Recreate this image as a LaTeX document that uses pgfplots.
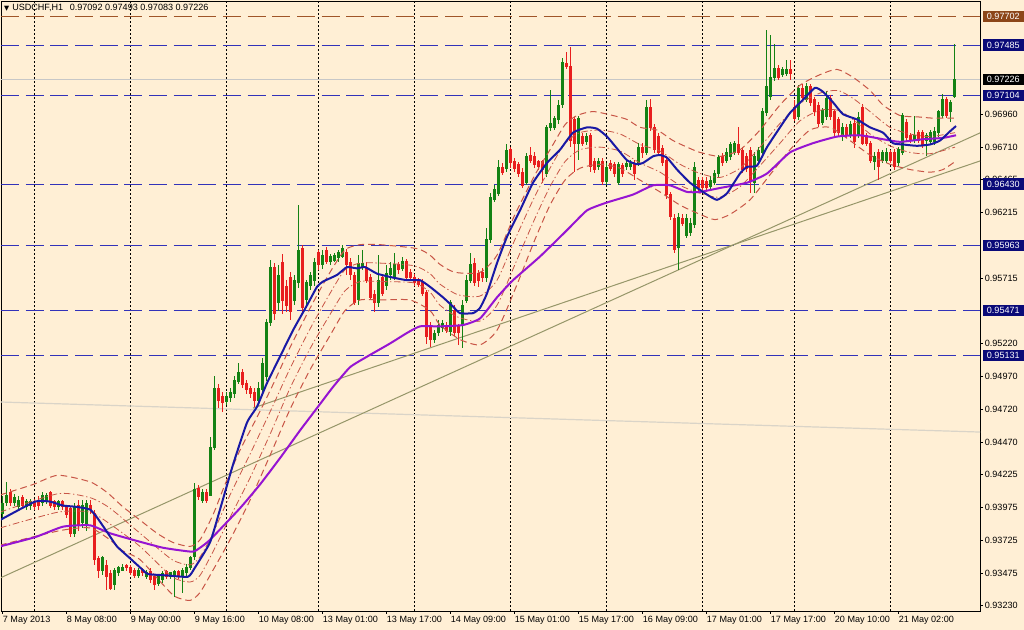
\documentclass[border=0pt]{standalone}
\usepackage{fontspec}
\setmainfont{Liberation Sans}
\newfontfamily\dejavu{DejaVu Sans}
\usepackage{pgfplots}
\usepackage{pgfplotstable}
\pgfplotsset{compat=1.18}

\definecolor{bgc}{RGB}{255,239,213}
\definecolor{upg}{RGB}{20,130,20}
\definecolor{dnr}{RGB}{232,30,30}
\definecolor{mablue}{RGB}{25,25,165}
\definecolor{mapurple}{RGB}{150,20,210}
\definecolor{band}{RGB}{200,85,70}
\definecolor{lvl}{RGB}{50,50,185}
\definecolor{lvlbrown}{RGB}{160,85,40}
\definecolor{trend}{RGB}{150,150,105}
\definecolor{faint}{RGB}{218,212,200}
\definecolor{boxnavy}{RGB}{10,10,120}
\definecolor{boxbrown}{RGB}{140,70,25}

\newcommand\lbl{\fontsize{6.8pt}{8pt}\selectfont}

% USDCHF H1 candles: open high low close
\pgfplotstableread{
o h l c
0.9393 0.9406 0.9388 0.9401
0.9401 0.9417 0.9399 0.9407
0.9409 0.9412 0.9399 0.9401
0.9401 0.9408 0.9399 0.9405
0.9398 0.9406 0.9396 0.9403
0.9405 0.9407 0.9397 0.9399
0.9398 0.9404 0.9396 0.9402
0.9399 0.9404 0.9396 0.9402
0.9402 0.9404 0.9396 0.9398
0.9403 0.9406 0.9396 0.9399
0.9401 0.9409 0.9399 0.9407
0.9402 0.9409 0.9400 0.9407
0.9409 0.9410 0.9397 0.9399
0.9402 0.9403 0.9396 0.9398
0.9398 0.9403 0.9396 0.9402
0.9402 0.9403 0.9396 0.9398
0.9398 0.9399 0.9390 0.9392
0.9397 0.9399 0.9375 0.9378
0.9378 0.9401 0.9375 0.9398
0.9399 0.9403 0.9380 0.9384
0.9386 0.9403 0.9382 0.9399
0.9384 0.9403 0.9380 0.9401
0.9399 0.9403 0.9393 0.9396
0.9393 0.9396 0.9354 0.9358
0.9359 0.9361 0.9344 0.9350
0.9350 0.9361 0.9346 0.9360
0.9354 0.9358 0.9335 0.9345
0.9348 0.9350 0.9335 0.9336
0.9339 0.9352 0.9335 0.9350
0.9348 0.9353 0.9346 0.9352
0.9350 0.9355 0.9349 0.9352
0.9354 0.9355 0.9349 0.9352
0.9352 0.9354 0.9346 0.9348
0.9350 0.9352 0.9344 0.9346
0.9346 0.9352 0.9344 0.9350
0.9350 0.9352 0.9346 0.9348
0.9345 0.9350 0.9343 0.9348
0.9349 0.9352 0.9340 0.9343
0.9345 0.9346 0.9335 0.9339
0.9340 0.9346 0.9338 0.9345
0.9343 0.9349 0.9340 0.9348
0.9349 0.9350 0.9343 0.9345
0.9345 0.9349 0.9343 0.9348
0.9346 0.9350 0.9330 0.9349
0.9349 0.9350 0.9343 0.9345
0.9345 0.9352 0.9333 0.9350
0.9348 0.9355 0.9346 0.9352
0.9352 0.9361 0.9350 0.9360
0.9360 0.9416 0.9358 0.9411
0.9412 0.9415 0.9403 0.9406
0.9403 0.9412 0.9401 0.9409
0.9409 0.9412 0.9401 0.9403
0.9407 0.9451 0.9406 0.9443
0.9443 0.9497 0.9441 0.9488
0.9488 0.9491 0.9473 0.9479
0.9482 0.9485 0.9470 0.9477
0.9478 0.9485 0.9475 0.9482
0.9481 0.9488 0.9478 0.9485
0.9484 0.9497 0.9481 0.9494
0.9493 0.9507 0.9491 0.9500
0.9500 0.9503 0.9488 0.9491
0.9492 0.9494 0.9484 0.9487
0.9488 0.9490 0.9481 0.9484
0.9485 0.9488 0.9474 0.9479
0.9479 0.9493 0.9475 0.9488
0.9487 0.9511 0.9484 0.9507
0.9497 0.9541 0.9494 0.9538
0.9538 0.9585 0.9535 0.9580
0.9580 0.9583 0.9540 0.9545
0.9553 0.9582 0.9547 0.9574
0.9584 0.9590 0.9544 0.9555
0.9565 0.9570 0.9546 0.9551
0.9572 0.9576 0.9540 0.9546
0.9555 0.9574 0.9551 0.9570
0.9568 0.9627 0.9564 0.9593
0.9594 0.9597 0.9546 0.9549
0.9555 0.9570 0.9551 0.9568
0.9566 0.9576 0.9563 0.9574
0.9570 0.9587 0.9566 0.9584
0.9591 0.9593 0.9578 0.9582
0.9582 0.9593 0.9579 0.9589
0.9593 0.9595 0.9582 0.9584
0.9584 0.9590 0.9582 0.9588
0.9585 0.9591 0.9584 0.9589
0.9587 0.9593 0.9584 0.9591
0.9588 0.9597 0.9587 0.9594
0.9591 0.9594 0.9574 0.9582
0.9584 0.9587 0.9570 0.9574
0.9574 0.9576 0.9551 0.9553
0.9555 0.9589 0.9551 0.9583
0.9580 0.9593 0.9578 0.9583
0.9580 0.9584 0.9568 0.9570
0.9572 0.9575 0.9555 0.9557
0.9559 0.9563 0.9546 0.9553
0.9553 0.9589 0.9550 0.9570
0.9572 0.9575 0.9558 0.9560
0.9566 0.9582 0.9563 0.9575
0.9574 0.9584 0.9570 0.9579
0.9572 0.9591 0.9570 0.9582
0.9582 0.9584 0.9575 0.9578
0.9579 0.9588 0.9577 0.9584
0.9584 0.9586 0.9570 0.9572
0.9576 0.9579 0.9570 0.9572
0.9572 0.9575 0.9566 0.9568
0.9570 0.9572 0.9565 0.9567
0.9569 0.9571 0.9558 0.9560
0.9561 0.9563 0.9522 0.9527
0.9535 0.9538 0.9519 0.9525
0.9525 0.9532 0.9522 0.9530
0.9530 0.9540 0.9528 0.9536
0.9534 0.9540 0.9531 0.9537
0.9536 0.9538 0.9530 0.9532
0.9531 0.9555 0.9528 0.9553
0.9547 0.9551 0.9528 0.9530
0.9535 0.9537 0.9521 0.9530
0.9536 0.9555 0.9519 0.9551
0.9555 0.9574 0.9553 0.9570
0.9570 0.9591 0.9568 0.9582
0.9583 0.9587 0.9566 0.9568
0.9575 0.9578 0.9565 0.9570
0.9576 0.9579 0.9569 0.9572
0.9572 0.9610 0.9569 0.9601
0.9601 0.9636 0.9598 0.9633
0.9631 0.9642 0.9629 0.9639
0.9636 0.9661 0.9634 0.9656
0.9656 0.9659 0.9650 0.9652
0.9655 0.9673 0.9652 0.9669
0.9669 0.9671 0.9655 0.9659
0.9660 0.9663 0.9652 0.9655
0.9658 0.9660 0.9648 0.9651
0.9652 0.9655 0.9640 0.9642
0.9644 0.9667 0.9642 0.9664
0.9665 0.9671 0.9659 0.9661
0.9664 0.9667 0.9655 0.9658
0.9660 0.9661 0.9654 0.9656
0.9660 0.9661 0.9644 0.9654
0.9651 0.9688 0.9648 0.9686
0.9686 0.9714 0.9683 0.9689
0.9686 0.9695 0.9684 0.9693
0.9692 0.9707 0.9689 0.9703
0.9703 0.9739 0.9701 0.9735
0.9735 0.9743 0.9730 0.9732
0.9732 0.9747 0.9671 0.9676
0.9692 0.9694 0.9652 0.9674
0.9674 0.9695 0.9661 0.9693
0.9679 0.9682 0.9672 0.9674
0.9675 0.9682 0.9673 0.9679
0.9680 0.9682 0.9652 0.9656
0.9660 0.9663 0.9651 0.9654
0.9656 0.9663 0.9654 0.9660
0.9660 0.9663 0.9642 0.9645
0.9645 0.9659 0.9642 0.9656
0.9659 0.9661 0.9653 0.9655
0.9658 0.9660 0.9648 0.9651
0.9644 0.9660 0.9642 0.9658
0.9657 0.9659 0.9648 0.9651
0.9656 0.9661 0.9654 0.9659
0.9656 0.9661 0.9654 0.9659
0.9659 0.9661 0.9646 0.9651
0.9659 0.9674 0.9657 0.9671
0.9671 0.9674 0.9663 0.9667
0.9667 0.9707 0.9665 0.9701
0.9701 0.9708 0.9683 0.9686
0.9686 0.9689 0.9667 0.9669
0.9679 0.9682 0.9665 0.9667
0.9670 0.9673 0.9657 0.9659
0.9661 0.9664 0.9632 0.9635
0.9635 0.9637 0.9616 0.9618
0.9617 0.9620 0.9591 0.9593
0.9595 0.9621 0.9578 0.9618
0.9617 0.9620 0.9611 0.9613
0.9604 0.9620 0.9602 0.9617
0.9606 0.9617 0.9604 0.9613
0.9612 0.9660 0.9610 0.9656
0.9646 0.9648 0.9638 0.9640
0.9646 0.9648 0.9638 0.9640
0.9645 0.9648 0.9637 0.9640
0.9641 0.9649 0.9639 0.9646
0.9644 0.9654 0.9642 0.9651
0.9651 0.9665 0.9648 0.9663
0.9664 0.9667 0.9657 0.9659
0.9661 0.9670 0.9659 0.9667
0.9664 0.9675 0.9661 0.9673
0.9667 0.9676 0.9665 0.9674
0.9673 0.9686 0.9665 0.9667
0.9669 0.9671 0.9651 0.9654
0.9664 0.9667 0.9652 0.9655
0.9669 0.9671 0.9636 0.9646
0.9644 0.9667 0.9636 0.9664
0.9661 0.9671 0.9659 0.9669
0.9667 0.9701 0.9665 0.9698
0.9697 0.9760 0.9695 0.9717
0.9709 0.9756 0.9707 0.9724
0.9724 0.9749 0.9721 0.9731
0.9731 0.9733 0.9722 0.9724
0.9726 0.9732 0.9724 0.9730
0.9727 0.9737 0.9725 0.9730
0.9730 0.9737 0.9722 0.9727
0.9701 0.9707 0.9691 0.9693
0.9694 0.9718 0.9692 0.9716
0.9716 0.9719 0.9707 0.9709
0.9707 0.9720 0.9705 0.9717
0.9717 0.9719 0.9702 0.9705
0.9707 0.9709 0.9695 0.9698
0.9703 0.9705 0.9686 0.9689
0.9690 0.9701 0.9688 0.9699
0.9694 0.9714 0.9692 0.9708
0.9708 0.9711 0.9692 0.9694
0.9698 0.9699 0.9679 0.9682
0.9692 0.9694 0.9679 0.9682
0.9679 0.9689 0.9676 0.9686
0.9686 0.9689 0.9678 0.9680
0.9680 0.9691 0.9678 0.9688
0.9689 0.9692 0.9670 0.9675
0.9680 0.9698 0.9678 0.9694
0.9701 0.9704 0.9673 0.9674
0.9680 0.9682 0.9672 0.9674
0.9674 0.9676 0.9659 0.9661
0.9660 0.9667 0.9654 0.9664
0.9667 0.9670 0.9646 0.9656
0.9661 0.9669 0.9659 0.9667
0.9661 0.9670 0.9659 0.9667
0.9667 0.9669 0.9659 0.9661
0.9667 0.9670 0.9654 0.9656
0.9659 0.9671 0.9657 0.9669
0.9667 0.9697 0.9665 0.9695
0.9690 0.9692 0.9676 0.9678
0.9680 0.9682 0.9674 0.9676
0.9676 0.9695 0.9674 0.9680
0.9682 0.9684 0.9674 0.9676
0.9682 0.9684 0.9670 0.9673
0.9676 0.9682 0.9664 0.9680
0.9675 0.9684 0.9673 0.9682
0.9675 0.9686 0.9673 0.9683
0.9682 0.9699 0.9679 0.9698
0.9695 0.9711 0.9693 0.9707
0.9707 0.9709 0.9693 0.9695
0.9698 0.9707 0.9690 0.9705
0.97092 0.97493 0.97083 0.97226
}\candles

\begin{document}
\begin{tikzpicture}
\fill[bgc] (-0.75pt,-14.25pt) rectangle (767.25pt,458.25pt);
\begin{axis}[
  at={(0pt,0pt)}, anchor=south west,
  scale only axis, width=734.25pt, height=457.5pt,
  xmin=-0.25, xmax=244.5, ymin=0.9319, ymax=0.97819,
  axis line style={black, line width=0.6pt},
  clip mode=individual,
  xtick={0,16,...,224},
  xticklabels={7 May 2013, 8 May 08:00, 9 May 00:00, 9 May 16:00, 10 May 08:00,
    13 May 01:00, 13 May 17:00, 14 May 09:00, 15 May 01:00, 15 May 17:00,
    16 May 09:00, 17 May 01:00, 17 May 17:00, 20 May 10:00, 21 May 02:00},
  xtick pos=bottom, ytick pos=right,
  tick align=outside, major tick length=2.25pt,
  tick style={black, line width=0.6pt},
  ytick={0.96960,0.96710,0.96465,0.96215,0.95715,0.95220,0.94970,0.94720,0.94470,0.94225,0.93975,0.93725,0.93475,0.93230},
  yticklabels={0.96960,0.96710,0.96465,0.96215,0.95715,0.95220,0.94970,0.94720,0.94470,0.94225,0.93975,0.93725,0.93475,0.93230},
  yticklabel pos=right,
  x tick label style={font=\lbl, anchor=north west, inner xsep=0.5pt, inner ysep=1.5pt},
  y tick label style={font=\lbl, anchor=west, inner xsep=1.2pt},
  extra x ticks={8,32,56,79,103,127,151,175,198,222},
  extra x tick labels={},
  extra x tick style={grid=major, major tick length=0pt,
    major grid style={black, line width=0.6pt, dash pattern=on 1.5pt off 1.5pt}},
]
% faint lines
\addplot[faint, line width=0.9pt] coordinates {(-0.5,0.94776) (244.5,0.94548)};
\addplot[black!22, line width=0.75pt] coordinates {(-0.25,0.97226) (244.5,0.97226)};
% horizontal levels
\addplot[lvlbrown, line width=0.75pt, dash pattern=on 13.5pt off 5pt] coordinates {(-0.25,0.97702) (244.5,0.97702)};
\addplot[lvl, line width=0.75pt, dash pattern=on 13.5pt off 5pt] coordinates {(-0.25,0.97485) (244.5,0.97485)};
\addplot[lvl, line width=0.75pt, dash pattern=on 13.5pt off 5pt] coordinates {(-0.25,0.97104) (244.5,0.97104)};
\addplot[lvl, line width=0.75pt, dash pattern=on 13.5pt off 5pt] coordinates {(-0.25,0.96430) (244.5,0.96430)};
\addplot[lvl, line width=0.75pt, dash pattern=on 13.5pt off 5pt] coordinates {(-0.25,0.95963) (244.5,0.95963)};
\addplot[lvl, line width=0.75pt, dash pattern=on 13.5pt off 5pt] coordinates {(-0.25,0.95471) (244.5,0.95471)};
\addplot[lvl, line width=0.75pt, dash pattern=on 13.5pt off 5pt] coordinates {(-0.25,0.95131) (244.5,0.95131)};
% trend lines
\addplot[trend, line width=0.75pt] coordinates {(-0.5,0.9344) (244.5,0.96818)};
\addplot[trend, line width=0.75pt] coordinates {(62.75,0.9473) (244.5,0.96605)};

% candles: wicks then bodies
\addplot[draw=none, error bars/.cd, y dir=both, y explicit, error mark=none,
  error bar style={draw=upg, line width=0.75pt}]
  table[x expr=\coordindex, y expr={\thisrow{c}>=\thisrow{o} ? (\thisrow{h}+\thisrow{l})/2 : nan},
        y error expr={(\thisrow{h}-\thisrow{l})/2}] {\candles};
\addplot[draw=none, error bars/.cd, y dir=both, y explicit, error mark=none,
  error bar style={draw=dnr, line width=0.75pt}]
  table[x expr=\coordindex, y expr={\thisrow{c}<\thisrow{o} ? (\thisrow{h}+\thisrow{l})/2 : nan},
        y error expr={(\thisrow{h}-\thisrow{l})/2}] {\candles};
\addplot[draw=none, error bars/.cd, y dir=both, y explicit, error mark=none,
  error bar style={draw=upg, line width=2.25pt}]
  table[x expr=\coordindex, y expr={\thisrow{c}>=\thisrow{o} ? (\thisrow{o}+\thisrow{c})/2 : nan},
        y error expr={abs(\thisrow{c}-\thisrow{o})/2+0.00003}] {\candles};
\addplot[draw=none, error bars/.cd, y dir=both, y explicit, error mark=none,
  error bar style={draw=dnr, line width=2.25pt}]
  table[x expr=\coordindex, y expr={\thisrow{c}<\thisrow{o} ? (\thisrow{o}+\thisrow{c})/2 : nan},
        y error expr={abs(\thisrow{c}-\thisrow{o})/2+0.00003}] {\candles};

% envelope bands
\addplot[band, line width=0.75pt, dash pattern=on 5pt off 3pt, smooth, tension=0.4] coordinates {
(-0.5,0.9407) (7.75,0.9415) (14,0.9422) (22,0.9417) (26.25,0.9409) (30.25,0.9398) (34.5,0.9388) (38.75,0.9378) (42.75,0.9371) (47,0.9368) (49.5,0.9373) (52.75,0.9392) (55.75,0.9415) (59.5,0.9441) (63.75,0.9466) (68.25,0.9494) (72,0.9519) (77.75,0.9553) (82,0.9576) (85.75,0.9593) (89.5,0.9597) (94.5,0.9597) (103.75,0.9594) (107,0.9589) (109.5,0.9582) (113.25,0.9576) (119.5,0.9576) (123.75,0.9589) (128.25,0.9620) (133.25,0.9650) (137,0.9669) (140.75,0.9688) (143.75,0.9695) (147.75,0.9698) (152.75,0.9695) (156.25,0.9692) (159.5,0.9686) (163.75,0.9684) (167.75,0.9676) (172,0.9670) (174.5,0.9667) (179.5,0.9664) (184.5,0.9669) (189.5,0.9684) (194.5,0.9703) (199.5,0.9718) (204.5,0.9726) (208.75,0.9730) (212.75,0.9724) (217,0.9714) (220.25,0.9703) (224.5,0.9695) (228.75,0.9694) (232.75,0.9693) (238.25,0.9693)};
\addplot[band, line width=0.75pt, dash pattern=on 5pt off 3pt, smooth, tension=0.4] coordinates {
(-0.5,0.9369) (14.5,0.9380) (22,0.9382) (27,0.9373) (30,0.9365) (34.5,0.9358) (40.25,0.9339) (43.25,0.9330) (47,0.9327) (49.5,0.9333) (52.75,0.9350) (57,0.9373) (62,0.9403) (67,0.9437) (72,0.9472) (77,0.9502) (82,0.9528) (85.75,0.9547) (89.5,0.9555) (94.5,0.9555) (102,0.9555) (107,0.9547) (109.5,0.9536) (114.5,0.9525) (119.5,0.9521) (123.75,0.9532) (128.25,0.9563) (133.25,0.9601) (137,0.9627) (140.75,0.9646) (144.5,0.9655) (149.5,0.9658) (154.5,0.9655) (159.5,0.9646) (164.5,0.9637) (169.5,0.9627) (174.5,0.9620) (178.25,0.9616) (182,0.9620) (187,0.9631) (192,0.9650) (197,0.9669) (202,0.9684) (207,0.9686) (212,0.9676) (217,0.9665) (222,0.9658) (227,0.9654) (232,0.9652) (235.25,0.9654) (238.25,0.9660)};
\addplot[band, line width=0.6pt, dash pattern=on 5pt off 2pt on 1pt off 2pt, smooth, tension=0.4] coordinates {
(-0.5,0.9394) (14,0.9408) (22,0.9405) (27,0.9397) (34.5,0.9378) (42.5,0.9358) (47,0.9354) (49.5,0.9360) (52.75,0.9378) (57,0.9407) (62,0.9438) (67,0.9470) (72,0.9503) (77,0.9533) (82,0.9560) (85.75,0.9578) (89.5,0.9583) (94.5,0.9583) (103,0.9581) (107,0.9575) (109.5,0.9567) (114,0.9559) (119.5,0.9558) (123.75,0.9570) (128.25,0.9601) (133.25,0.9634) (137,0.9655) (140.75,0.9674) (144.5,0.9682) (149.5,0.9684) (154.5,0.9681) (159.5,0.9673) (164.5,0.9668) (169.5,0.9658) (174.5,0.9651) (179.5,0.9648) (184.5,0.9655) (189.5,0.9671) (194.5,0.9689) (199.5,0.9704) (204.5,0.9712) (209,0.9714) (212.75,0.9708) (217,0.9698) (222,0.9686) (227,0.9681) (232,0.9679) (238.25,0.9682)};
\addplot[band, line width=0.6pt, dash pattern=on 5pt off 2pt on 1pt off 2pt, smooth, tension=0.4] coordinates {
(-0.5,0.9382) (14,0.9394) (22,0.9394) (27,0.9385) (34.5,0.9368) (42.5,0.9345) (47,0.9341) (49.5,0.9346) (52.75,0.9364) (57,0.9390) (62,0.9420) (67,0.9453) (72,0.9488) (77,0.9518) (82,0.9544) (85.75,0.9562) (89.5,0.9569) (94.5,0.9569) (103,0.9568) (107,0.9561) (109.5,0.9551) (114,0.9542) (119.5,0.9539) (123.75,0.9551) (128.25,0.9582) (133.25,0.9617) (137,0.9641) (140.75,0.9660) (144.5,0.9669) (149.5,0.9671) (154.5,0.9668) (159.5,0.9659) (164.5,0.9652) (169.5,0.9642) (174.5,0.9636) (179.5,0.9633) (184.5,0.9641) (189.5,0.9657) (194.5,0.9674) (199.5,0.9691) (204.5,0.9699) (209,0.9699) (212.75,0.9692) (217,0.9681) (222,0.9672) (227,0.9667) (232,0.9666) (238.25,0.9671)};

% moving averages
\addplot[mapurple, line width=1.5pt, smooth, tension=0.3] coordinates {
(-0.5,0.9368) (8.25,0.9375) (15.25,0.9383) (22,0.9384) (27,0.9378) (32.75,0.9373) (40.25,0.9367) (47.5,0.9364) (49.5,0.9367) (52,0.9373) (59.5,0.9397) (64.5,0.9415) (69.5,0.9435) (74.5,0.9456) (78.75,0.9473) (82.75,0.9489) (87,0.9504) (91.25,0.9512) (97,0.9522) (101.25,0.9530) (104.5,0.9535) (109.5,0.9535) (115.25,0.9536) (119.5,0.9541) (123.75,0.9557) (127.75,0.9570) (134.5,0.9588) (141.25,0.9608) (146.25,0.9623) (151.25,0.9629) (157.75,0.9635) (162.75,0.9642) (167,0.9642) (171.25,0.9637) (174.5,0.9637) (179.5,0.9640) (186.25,0.9644) (191.25,0.9651) (197,0.9667) (202.75,0.9674) (208.75,0.9679) (214.5,0.9680) (220.25,0.9677) (224.5,0.9675) (230.25,0.9677) (235.25,0.9678) (238.5,0.9680)};
\addplot[mablue, line width=1.5pt, smooth, tension=0.3] coordinates {
(-0.5,0.9388) (8.25,0.9402) (12,0.9402) (15.25,0.9399) (18.75,0.9398) (22,0.9396) (23.75,0.9390) (26.25,0.9379) (28.75,0.9368) (32,0.9359) (35.25,0.9350) (36.5,0.9347) (41.25,0.9346) (46.5,0.9345) (48.25,0.9352) (52,0.9371) (54.5,0.9396) (57.75,0.9430) (61.25,0.9462) (63.75,0.9474) (66.25,0.9492) (69.5,0.9512) (72.75,0.9532) (76.25,0.9551) (78.75,0.9565) (80.25,0.9569) (83.75,0.9574) (86.25,0.9580) (88.75,0.9579) (90.75,0.9580) (93.75,0.9575) (97.75,0.9572) (101.25,0.9570) (104.5,0.9570) (107,0.9565) (110.25,0.9557) (112.75,0.9550) (114.5,0.9545) (117.75,0.9545) (119.5,0.9549) (121.25,0.9560) (123.75,0.9583) (126.25,0.9603) (129.5,0.9623) (132.75,0.9644) (136.25,0.9659) (139.5,0.9669) (142.75,0.9682) (146.25,0.9686) (148.75,0.9685) (151.25,0.9679) (153.75,0.9670) (156.25,0.9661) (158.75,0.9658) (160.25,0.9659) (162.75,0.9664) (164.5,0.9665) (166.25,0.9663) (168.75,0.9654) (172,0.9644) (176.25,0.9635) (178.75,0.9631) (181.25,0.9636) (184.5,0.9651) (186.25,0.9656) (188.75,0.9657) (191.25,0.9671) (194.5,0.9686) (197,0.9697) (200.25,0.9707) (203.25,0.9716) (205.25,0.9713) (207.75,0.9705) (210.25,0.9696) (213.75,0.9692) (217,0.9686) (220.25,0.9682) (222.75,0.9674) (225.25,0.9673) (228.75,0.9672) (232,0.9673) (234.5,0.9676) (237,0.9683) (238.5,0.9687)};

\coordinate (b1) at (axis cs:244.5,0.97702);
\coordinate (b2) at (axis cs:244.5,0.97485);
\coordinate (b3) at (axis cs:244.5,0.97226);
\coordinate (b4) at (axis cs:244.5,0.97104);
\coordinate (b5) at (axis cs:244.5,0.96430);
\coordinate (b6) at (axis cs:244.5,0.95963);
\coordinate (b7) at (axis cs:244.5,0.95471);
\coordinate (b8) at (axis cs:244.5,0.95131);
\end{axis}

\tikzset{pbox/.style={anchor=west, inner sep=0pt, minimum width=30.5pt, minimum height=8.4pt, text=white, font=\lbl}}
\node[pbox, fill=boxbrown] at ([xshift=2pt]b1) {0.97702};
\node[pbox, fill=boxnavy] at ([xshift=2pt]b2) {0.97485};
\node[pbox, fill=black] at ([xshift=2pt]b3) {0.97226};
\node[pbox, fill=boxnavy] at ([xshift=2pt]b4) {0.97104};
\node[pbox, fill=boxnavy] at ([xshift=2pt]b5) {0.96430};
\node[pbox, fill=boxnavy] at ([xshift=2pt]b6) {0.95963};
\node[pbox, fill=boxnavy] at ([xshift=2pt]b7) {0.95471};
\node[pbox, fill=boxnavy] at ([xshift=2pt]b8) {0.95131};

\node[anchor=west, font=\lbl, inner sep=0pt] at (2.2pt,452.2pt)
  {{\dejavu\fontsize{5pt}{6pt}\selectfont ▼}\hspace{2.2pt}USDCHF,H1\hspace{5pt}0.97092 0.97493 0.97083 0.97226};

\pgfresetboundingbox
\path (-0.75pt,-14.25pt) rectangle (767.25pt,458.25pt);
\end{tikzpicture}
\end{document}
